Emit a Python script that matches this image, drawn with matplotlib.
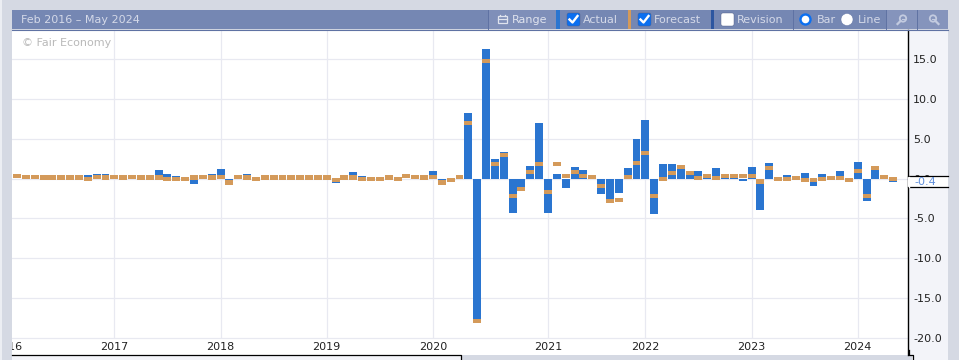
import matplotlib
matplotlib.use("Agg")
import matplotlib.pyplot as plt
from matplotlib.patches import Rectangle, FancyBboxPatch, Circle

W, H = 959, 360

# one value per month, Feb 2016 - May 2024
actual = [-0.1, 0.2, 0.2, 0.46, 0.1, 0.1, 0.1, 0.1, 0.45, 0.6,
          0.6, 0.2, 0.1, 0.2, 0.1, 0.1, 1.1, 0.6, 0.35, -0.05,
          -0.65, 0.2, 0.6, 1.2, -0.2, 0.2, 0.6, -0.05, 0.45, 0.45,
          0.45, 0.1, 0.1, 0.1, 0.1, 0.45, -0.55, 0.1, 0.85, 0.35,
          -0.05, -0.05, 0.45, -0.05, -0.1, 0.2, 0.1, 1.0, -0.2, -0.2,
          0.2, 8.24, -17.7, 16.3, 2.45, 3.3, -4.35, -1.1, 1.57, 7.0,
          -4.35, 0.55, -1.2, 1.45, 1.07, 0.2, -1.95, -2.6, -1.8, 1.3,
          5.0, 7.35, -4.45, 1.8, 1.8, 1.2, 0.45, 0.95, 0.07, 1.3,
          0.07, 0.07, -0.35, 1.45, -3.95, 1.95, -0.05, 0.45, 0.05, 0.7,
          -0.95, 0.55, 0.05, 0.95, -0.2, 2.05, -2.8, 1.05, 0.2, -0.45]
forecast = [0.33, 0.2, 0.2, 0.1, 0.1, 0.1, 0.1, 0.1, -0.04, 0.2,
            0.1, 0.2, 0.1, 0.2, 0.1, 0.1, 0.1, -0.05, -0.05, -0.05,
            0.1, 0.2, 0.1, 0.2, -0.5, 0.2, 0.1, -0.05, 0.1, 0.1,
            0.1, 0.1, 0.1, 0.1, 0.1, 0.1, -0.2, 0.1, 0.1, -0.05,
            -0.05, -0.05, 0.1, -0.05, 0.33, 0.2, 0.1, 0.2, -0.5, -0.2,
            0.2, 6.98, -17.9, 14.8, 1.8, 2.95, -2.2, -1.33, 0.82, 1.8,
            -1.7, 1.8, 0.3, 0.82, 0.3, 0.2, -0.95, -2.8, -2.7, 0.2,
            1.95, 3.2, -2.2, -0.05, 0.7, 1.45, 0.7, 0.05, 0.33, 0.05,
            0.33, 0.33, 0.33, 0.33, -0.4, 1.3, -0.05, -0.05, 0.05, -0.2,
            -0.2, -0.05, 0.05, 0.05, -0.2, 0.95, -2.2, 1.3, 0.2, -0.05]

year_labels = ["2016", "2017", "2018", "2019", "2020", "2021", "2022", "2023", "2024"]
year_pos = [-1, 11, 23, 35, 47, 60, 71, 83, 95]
y_ticks = [15, 10, 5, 0, -5, -10, -15, -20]
last_label = "-0.4"

BG = "#d5d9e3"
HEAD = "#7587b3"
BLUE = "#2a75d0"
TAN = "#d49a5a"
GRID = "#e8e9f1"
PANEL = "#f3f4f9"

fig = plt.figure(figsize=(W / 100, H / 100), dpi=100, facecolor=BG)

# chart area, in pixels: x 12-908, y 30-355
ax = fig.add_axes([12 / W, 1 - 355 / H, 896 / W, 325 / H], facecolor="white")
ax.set_xlim(-0.565, 100.68)
ax.set_ylim(-22.2, 18.68)

x = list(range(len(actual)))
ax.hlines(y_ticks, -1, 101, color=GRID, lw=0.9, zorder=1)
ax.vlines(year_pos, -20, 18.68, color=GRID, lw=0.9, zorder=1)
ax.bar(x, actual, width=0.9, color=BLUE, zorder=2)
ax.bar(x, [0.56] * len(x), width=0.9, bottom=[f - 0.28 for f in forecast], color=TAN, zorder=3)

for lab, pos in zip(year_labels, year_pos):
    ax.text(pos, -21.25, lab, ha="center", va="center", fontsize=8, color="#222222", clip_on=True)

ax.set_xticks([])
ax.yaxis.tick_right()
ax.set_yticks(y_ticks)
ax.set_yticklabels([f"{t:.1f}" for t in y_ticks], fontsize=8, color="#222222")
ax.tick_params(axis="y", length=0, pad=3.6)
for s in ["top", "left", "bottom"]:
    ax.spines[s].set_visible(False)
ax.spines["right"].set_linewidth(1.0)
ax.spines["right"].set_color("black")

# page furniture behind the chart, in pixel coordinates
bg = fig.add_axes([0, 0, 1, 1], zorder=-1)
bg.set_xlim(0, W)
bg.set_ylim(H, 0)
bg.axis("off")
bg.add_patch(Rectangle((0, 0), 1.5, H, color="#eceef3", lw=0))
bg.add_patch(Rectangle((12, 355), 449, 5, color=PANEL, lw=0))
bg.add_patch(Rectangle((908, 30), 40, 325, color=PANEL, lw=0))
bg.add_patch(Rectangle((912, 355), 36, 5, color=PANEL, lw=0))

top = fig.add_axes([0, 0, 1, 1], zorder=5)
top.set_xlim(0, W)
top.set_ylim(H, 0)
top.axis("off")
top.patch.set_alpha(0)

top.text(22, 43, "© Fair Economy", fontsize=8, color="#b9b9b9", va="center")

# stepped bottom edge of the chart
top.plot([12, 461, 461], [355, 355, 360], color="black", lw=0.9)
top.plot([908.5, 908.5, 912.5, 912.5], [350, 355, 355, 360], color="black", lw=0.9)

# header
top.add_patch(Rectangle((12, 10), 936, 19, color=HEAD, lw=0))
top.plot([12, 948], [29.5, 29.5], color="#5f72a3", lw=0.8)
txt = "#dfe3ee"
top.text(21, 20, "Feb 2016 – May 2024", fontsize=8, color="#d4d9e8", va="center")

top.add_patch(Rectangle((488, 10), 68, 19, color="#7f8fb9", lw=0))
top.add_patch(Rectangle((886, 10), 62, 19, color="#8594bc", lw=0))
for px in [488, 793, 886, 917]:
    top.plot([px, px], [10, 29], color="#5f72a3", lw=0.7)
top.add_patch(Rectangle((556, 10), 4, 19, color=BLUE, lw=0))
top.add_patch(Rectangle((628, 10), 3, 19, color=TAN, lw=0))
top.add_patch(Rectangle((711, 10), 3, 19, color="#2d56a0", lw=0))

# calendar icon
top.add_patch(Rectangle((498, 16), 9, 7, fc="none", ec=txt, lw=0.9))
top.plot([498, 507], [19, 19], color=txt, lw=0.9)
top.plot([500, 500], [14.5, 16], color=txt, lw=0.9)
top.plot([505, 505], [14.5, 16], color=txt, lw=0.9)
top.text(512, 20, "Range", fontsize=8, color=txt, va="center")


def checkbox(px, label, checked):
    fc = "#0b6ff0" if checked else "white"
    top.add_patch(FancyBboxPatch((px, 13), 13, 13, boxstyle="round,pad=0,rounding_size=2",
                                 fc=fc, ec="#4a5a85", lw=0.3))
    if checked:
        top.plot([px + 2.5, px + 5.5, px + 10.5], [19.5, 22.5, 16], color="white", lw=1.7)
    top.text(px + 15.5, 20, label, fontsize=8, color="#d4d9e8", va="center")


checkbox(567, "Actual", True)
checkbox(638, "Forecast", True)
checkbox(721, "Revision", False)

top.add_patch(Circle((805.5, 19.5), 5, fc="white", ec="#0b6ff0", lw=1.7))
top.text(817, 20, "Bar", fontsize=8, color="#d4d9e8", va="center")
top.add_patch(Circle((847, 19.5), 6, fc="white", ec="#5f72a3", lw=0.3))
top.text(858, 20, "Line", fontsize=8, color="#d4d9e8", va="center")

# zoom buttons
icon = "#c3cbe0"
for cx in [903, 933]:
    top.add_patch(Circle((cx, 18.5), 3.2, fc="none", ec=icon, lw=1.3))
    sign = -1 if cx == 903 else 1
    top.plot([cx + sign * 2.5, cx + sign * 5.5], [21, 24], color=icon, lw=1.6)
    top.plot([cx - 1.5, cx + 1.5], [18.5, 18.5], color=icon, lw=0.8)

# last value box on the right axis
top.add_patch(Rectangle((908, 176), 40, 11, color="white", lw=0))
top.plot([908, 948], [176.3, 176.3], color="black", lw=0.9)
top.plot([908, 948], [187.3, 187.3], color="black", lw=0.9)
top.plot([908.5, 908.5], [176.5, 187], color="white", lw=1)
top.text(914, 182, last_label, fontsize=8, color="#5f8edb", va="center")

fig.savefig("out.png", dpi=100, facecolor=BG)
